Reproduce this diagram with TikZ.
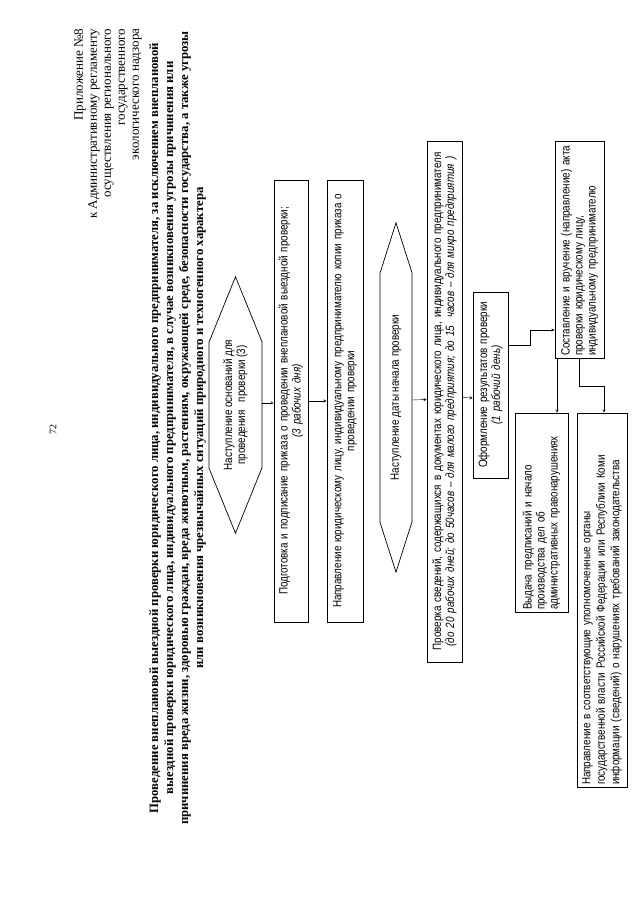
\documentclass[tikz,border=0pt]{standalone}
\usepackage{fontspec}
\setmainfont{Liberation Serif}
\newfontfamily\narrowfont[FakeStretch=0.82]{Liberation Sans}
\usetikzlibrary{positioning}

\newcommand{\boxfont}{\narrowfont\fontsize{12}{13}\selectfont}

\begin{document}
\begin{tikzpicture}
    [x=1pt,y=1pt,rotate=90,transform shape,>=stealth,
     box/.style={draw,rectangle,line width=0.7pt,inner sep=2pt,font=\boxfont,align=center},
     hexa/.style={rectangle,inner sep=0pt,font=\boxfont,align=center},
     hexline/.style={line width=0.7pt}]
\useasboundingbox (0,0) rectangle (905,640);

\node(pg) at (475,587) {72};
\node(app)[anchor=east,align=right,font=\fontsize{13}{14}\selectfont] at (880,532)
    {Приложение №8\\к Административному регламенту\\осуществления регионального\\государственного\\экологического надзора};
\node(title)[align=center,font=\fontsize{12.75}{15}\selectfont\bfseries] at (477,462.5)
    {Проведение внеплановой выездной проверки юридического лица, индивидуального предпринимателя, за исключением внеплановой\\
     выездной проверки юридического лица, индивидуального предпринимателя, в случае возникновения угрозы причинения или\\
     причинения вреда жизни, здоровью граждан, вреда животным, растениям, окружающей среде, безопасности государства, а также угрозы\\
     или возникновения чрезвычайных ситуаций природного и техногенного характера};

\node(a)[hexa,minimum width=256pt,minimum height=53pt] at (500,404.5)
    {Наступление оснований для\\проведения\ \ \ проверки (3)};
\draw[hexline] (a.west) -- ++(65,26.5) -- ++(126,0) -- (a.east) -- ++(-65,-26.5) -- ++(-126,0) -- cycle;
\node(b)[box,text width=438pt,minimum height=34pt] at (504,349)
    {Подготовка и подписание приказа о проведении внеплановой выездной проверки;\\\textit{(3 рабочих дня)}};
\node(c)[box,text width=438pt,minimum height=36pt] at (504,295)
    {Направление юридическому лицу, индивидуальному предпринимателю копии приказа о\\проведении проверки};
\node(d)[hexa,minimum width=349pt,minimum height=32pt] at (507.5,244)
    {Наступление даты начала проверки};
\draw[hexline] (d.west) -- ++(50,16) -- ++(249,0) -- (d.east) -- ++(-50,-16) -- ++(-249,0) -- cycle;
\node(e)[box,text width=517pt,minimum height=35pt] at (503.5,195.5)
    {Проверка сведений, содержащихся в документах юридического лица, индивидуального предпринимателя\\
     \textit{(до 20 рабочих дней; до 50часов – для малого предприятия; до 15\ \ часов – для микро предприятия )}};
\node(f)[box,text width=182pt,minimum height=35pt] at (520,149.5)
    {Оформление результатов проверки\\\textit{(1 рабочий день)}};
\node(g)[box,align=left,text width=213pt,minimum height=49pt] at (655.5,60.5)
    {Составление и вручение (направление) акта\\проверки юридическому лицу,\\индивидуальному предпринимателю};
\node(h)[box,align=left,text width=195pt,minimum height=53pt] at (392.5,98.5)
    {Выдача предписаний и начало\\производства дел об\\административных правонарушениях};
\node(i)[box,align=left,text width=370pt,minimum height=50pt,font=\narrowfont\fontsize{12}{14.5}\selectfont] at (305,38)
    {Направление в соответствующие уполномоченные органы\\государственной власти Российской Федерации или Республики Коми\\информации (сведений) о нарушениях требований законодательства};

\draw[->] ([xshift=2pt]a.south) -- ([xshift=-2pt]b.north);
\draw[->] (b.south) -- (c.north);
\draw[->] ([xshift=-2.5pt]d.south) -- ([xshift=2pt]e.north);
\draw[->] ([xshift=4pt]e.south) -- ([xshift=-13pt]f.north);
\draw[->] ([xshift=40pt]f.south) -- ++(0,-22) -- ++(15,0) -- ([xshift=-80.5pt]g.north);
\draw[->] ([yshift=22.5pt]g.west) -- ([yshift=-15.5pt]h.east);
\draw[->] (g.west) -- ++(-28,0) -- ++(0,-24.5) -- ([yshift=-2pt]i.east);
\end{tikzpicture}
\end{document}
